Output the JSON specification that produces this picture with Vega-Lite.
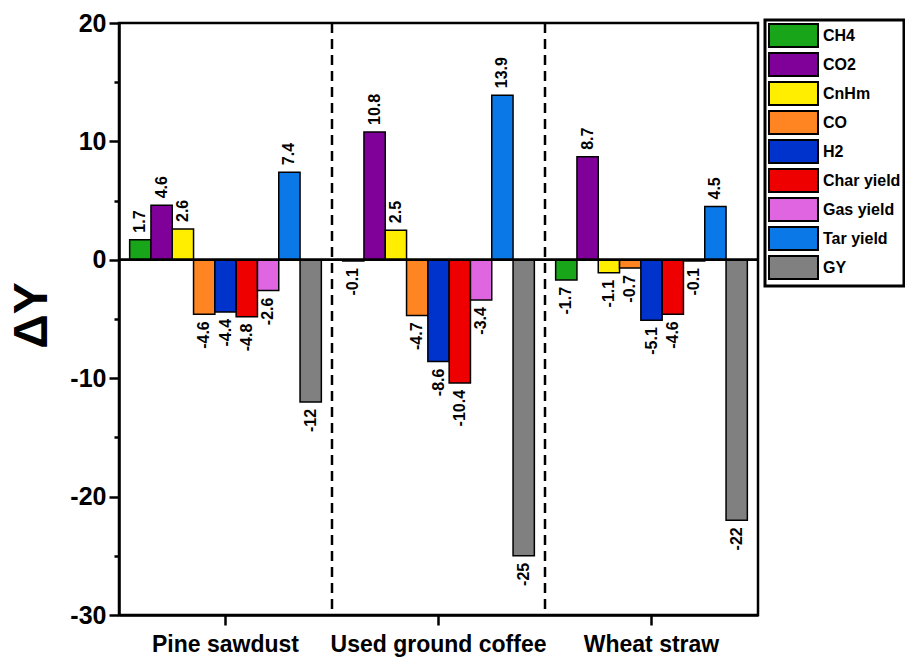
{
  "$schema": "https://vega.github.io/schema/vega-lite/v6.json",
  "autosize": {"type": "none"},
  "width": 639,
  "height": 592,
  "padding": {"left": 119, "top": 23, "right": 147, "bottom": 43},
  "background": "white",
  "config": {
    "view": {"stroke": "black", "strokeWidth": 2.5},
    "font": "Liberation Sans"
  },
  "datasets": {
    "bars": [
      {"sample": "Pine sawdust", "component": "CH4", "value": 1.7},
      {"sample": "Pine sawdust", "component": "CO2", "value": 4.6},
      {"sample": "Pine sawdust", "component": "CnHm", "value": 2.6},
      {"sample": "Pine sawdust", "component": "CO", "value": -4.6},
      {"sample": "Pine sawdust", "component": "H2", "value": -4.4},
      {"sample": "Pine sawdust", "component": "Char yield", "value": -4.8},
      {"sample": "Pine sawdust", "component": "Gas yield", "value": -2.6},
      {"sample": "Pine sawdust", "component": "Tar yield", "value": 7.4},
      {"sample": "Pine sawdust", "component": "GY", "value": -12},
      {"sample": "Used ground coffee", "component": "CH4", "value": -0.1},
      {"sample": "Used ground coffee", "component": "CO2", "value": 10.8},
      {"sample": "Used ground coffee", "component": "CnHm", "value": 2.5},
      {"sample": "Used ground coffee", "component": "CO", "value": -4.7},
      {"sample": "Used ground coffee", "component": "H2", "value": -8.6},
      {"sample": "Used ground coffee", "component": "Char yield", "value": -10.4},
      {"sample": "Used ground coffee", "component": "Gas yield", "value": -3.4},
      {"sample": "Used ground coffee", "component": "Tar yield", "value": 13.9},
      {"sample": "Used ground coffee", "component": "GY", "value": -25},
      {"sample": "Wheat straw", "component": "CH4", "value": -1.7},
      {"sample": "Wheat straw", "component": "CO2", "value": 8.7},
      {"sample": "Wheat straw", "component": "CnHm", "value": -1.1},
      {"sample": "Wheat straw", "component": "CO", "value": -0.7},
      {"sample": "Wheat straw", "component": "H2", "value": -5.1},
      {"sample": "Wheat straw", "component": "Char yield", "value": -4.6},
      {"sample": "Wheat straw", "component": "Gas yield", "value": -0.1},
      {"sample": "Wheat straw", "component": "Tar yield", "value": 4.5},
      {"sample": "Wheat straw", "component": "GY", "value": -22}
    ],
    "dividers": [
      {"sample": "Used ground coffee"},
      {"sample": "Wheat straw"}
    ]
  },
  "layer": [
    {
      "data": {"name": "bars"},
      "mark": {"type": "bar", "stroke": "black", "strokeWidth": 1.5},
      "encoding": {
        "x": {
          "field": "sample", "type": "nominal",
          "scale": {"domain": ["Pine sawdust", "Used ground coffee", "Wheat straw"], "paddingInner": 0, "paddingOuter": 0},
          "axis": {
            "title": null, "labelAngle": 0, "labelFontSize": 23, "labelFontWeight": "bold", "labelColor": "black",
            "labelPadding": 8, "labelLimit": 400, "domainColor": "black", "domainWidth": 2.5, "tickColor": "black", "tickWidth": 2.5, "tickSize": 10
          }
        },
        "xOffset": {
          "field": "component", "type": "nominal",
          "scale": {"domain": ["CH4", "CO2", "CnHm", "CO", "H2", "Char yield", "Gas yield", "Tar yield", "GY"], "paddingInner": 0, "paddingOuter": 0.5}
        },
        "y": {
          "field": "value", "type": "quantitative",
          "scale": {"domain": [-30, 20], "nice": false, "zero": false},
          "axis": {
            "title": "ΔY", "titleFontSize": 48, "titleFontWeight": "bold", "titleColor": "black",
            "titleX": -87, "titleY": 292, "titleAlign": "center", "titleBaseline": "middle", "titleAngle": 270,
            "values": [-30, -25, -20, -15, -10, -5, 0, 5, 10, 15, 20],
            "labelExpr": "datum.value % 10 === 0 ? '' + datum.value : ''",
            "labelFontSize": 25, "labelFontWeight": "bold", "labelColor": "black", "labelPadding": 3,
            "grid": false, "domainColor": "black", "domainWidth": 2.5, "tickColor": "black", "tickWidth": 2.5,
            "tickSize": {"condition": {"test": "datum.value % 10 === 0", "value": 10}, "value": 5}
          }
        },
        "fill": {
          "field": "component", "type": "nominal",
          "scale": {
            "domain": ["CH4", "CO2", "CnHm", "CO", "H2", "Char yield", "Gas yield", "Tar yield", "GY"],
            "range": ["#19a519", "#80009a", "#ffee00", "#ff8522", "#0033cc", "#ee0000", "#e065e0", "#0a78e6", "#808080"]
          },
          "legend": {
            "title": null, "orient": "none", "legendX": 646, "legendY": -3,
            "symbolType": "M-1,-1H3.26V1H-1Z", "symbolSize": 529,
            "symbolStrokeColor": "black", "symbolStrokeWidth": 2, "symbolOpacity": 1,
            "labelFontSize": 16, "labelFontWeight": "bold", "labelColor": "black", "labelOffset": 30, "labelLimit": 300,
            "rowPadding": -2, "strokeColor": "black", "padding": 3,
            "encode": {"legend": {"update": {"strokeWidth": {"value": 3}}}}
          }
        }
      }
    },
    {
      "data": {"name": "bars"},
      "transform": [{"filter": "datum.value >= 0"}],
      "mark": {"type": "text", "angle": 270, "align": "left", "baseline": "middle", "dx": 7, "fontSize": 16, "fontWeight": "bold", "color": "black"},
      "encoding": {
        "x": {"field": "sample", "type": "nominal", "scale": {"domain": ["Pine sawdust", "Used ground coffee", "Wheat straw"]}},
        "xOffset": {"field": "component", "type": "nominal", "scale": {"domain": ["CH4", "CO2", "CnHm", "CO", "H2", "Char yield", "Gas yield", "Tar yield", "GY"]}},
        "y": {"field": "value", "type": "quantitative"},
        "text": {"field": "value", "type": "nominal"}
      }
    },
    {
      "data": {"name": "bars"},
      "transform": [{"filter": "datum.value < 0"}],
      "mark": {"type": "text", "angle": 270, "align": "right", "baseline": "middle", "dx": -7, "fontSize": 16, "fontWeight": "bold", "color": "black"},
      "encoding": {
        "x": {"field": "sample", "type": "nominal", "scale": {"domain": ["Pine sawdust", "Used ground coffee", "Wheat straw"]}},
        "xOffset": {"field": "component", "type": "nominal", "scale": {"domain": ["CH4", "CO2", "CnHm", "CO", "H2", "Char yield", "Gas yield", "Tar yield", "GY"]}},
        "y": {"field": "value", "type": "quantitative"},
        "text": {"field": "value", "type": "nominal"}
      }
    },
    {
      "data": {"name": "dividers"},
      "mark": {"type": "rule", "color": "black", "strokeWidth": 2.5, "strokeDash": [10, 6]},
      "encoding": {
        "x": {"field": "sample", "type": "nominal", "bandPosition": 0, "scale": {"domain": ["Pine sawdust", "Used ground coffee", "Wheat straw"]}}
      }
    },
    {
      "data": {"name": "dividers"},
      "mark": {"type": "rule", "color": "black", "strokeWidth": 2.5},
      "encoding": {
        "y": {"datum": 0, "type": "quantitative"}
      }
    }
  ]
}
